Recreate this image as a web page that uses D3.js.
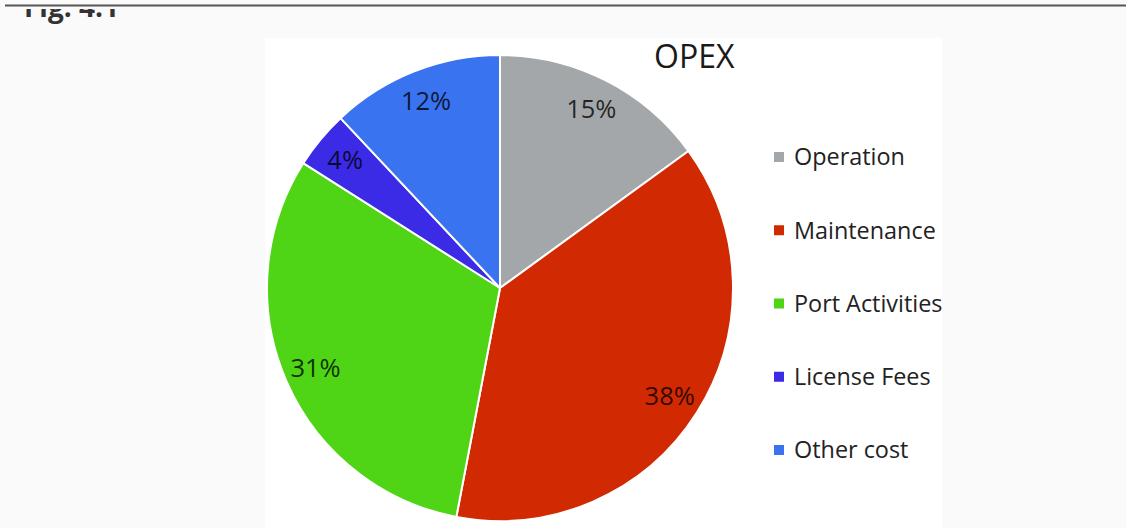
<!DOCTYPE html>
<html><head><meta charset="utf-8">
<script src="https://cdn.jsdelivr.net/npm/d3@7"></script>
<style>html,body{margin:0;padding:0;background:#fafafa;}svg{display:block;}</style>
</head><body>
<script>
const categories = ["Operation","Maintenance","Port Activities","License Fees","Other cost"];
const values = [15, 38, 31, 4, 12];
const colors = ["#a3a7a9","#d12a02","#4fd416","#3b2ae6","#3a73f0"];
const title = "OPEX";
const figLabel = "Fig. 4.1";

const W = 1126, H = 528;
const svg = d3.select("body").append("svg").attr("width", W).attr("height", H);
const font = "'Open Sans', sans-serif";

// chart image area
svg.append("rect").attr("x",265).attr("y",38).attr("width",677).attr("height",H-38).attr("fill","#ffffff");

// cropped figure caption (only its lower part is visible, as in the source scan)
svg.append("rect").attr("x",0).attr("y",0).attr("width",W).attr("height",9).attr("fill","#fafafa");
svg.append("clipPath").attr("id","figclip").append("rect").attr("x",0).attr("y",9).attr("width",300).attr("height",20);
svg.append("text").attr("x",24).attr("y",17).attr("clip-path","url(#figclip)")
  .attr("font-family",font).attr("font-weight","bold").attr("font-size",28).attr("fill","#333")
  .text(figLabel);
svg.append("line").attr("x1",5).attr("x2",W).attr("y1",5.5).attr("y2",5.5).attr("stroke","#555").attr("stroke-width",2);

const cx = 500, cy = 288, r = 233;
const g = svg.append("g").attr("transform",`translate(${cx},${cy})`);
const pie = d3.pie().sort(null).value(d=>d.v);
const data = pie(categories.map((c,i)=>({c, v: values[i], col: colors[i]})));
const arc = d3.arc().innerRadius(0).outerRadius(r);
g.selectAll("path").data(data).join("path")
  .attr("d", arc).attr("fill", d=>d.data.col)
  .attr("stroke","#ffffff").attr("stroke-width",2).attr("stroke-linejoin","round");

const labelArc = d3.arc().innerRadius(201).outerRadius(201);
g.selectAll("text.lbl").data(data).join("text").attr("class","lbl")
  .attr("transform", d=>`translate(${labelArc.centroid(d)})`)
  .attr("text-anchor","middle").attr("dy","0.36em")
  .attr("font-family",font).attr("font-size",25.5).attr("fill","#000").attr("fill-opacity",0.78)
  .text(d=>d.data.v + "%");

svg.append("text").attr("x",654).attr("y",68).attr("font-family",font).attr("font-size",32)
  .attr("fill","#1a1a1a").text(title);

const ly = d3.scalePoint().domain(categories).range([157, 450]);
const lg = svg.append("g");
const items = lg.selectAll("g").data(categories).join("g")
  .attr("transform", d=>`translate(774,${ly(d)})`);
items.append("rect").attr("x",0).attr("y",-5).attr("width",10).attr("height",10)
  .attr("fill",(d,i)=>colors[i]);
items.append("text").attr("x",20).attr("dy","0.36em").attr("font-family",font)
  .attr("font-size",23.4).attr("fill","#222").text(d=>d);
</script>
</body></html>
